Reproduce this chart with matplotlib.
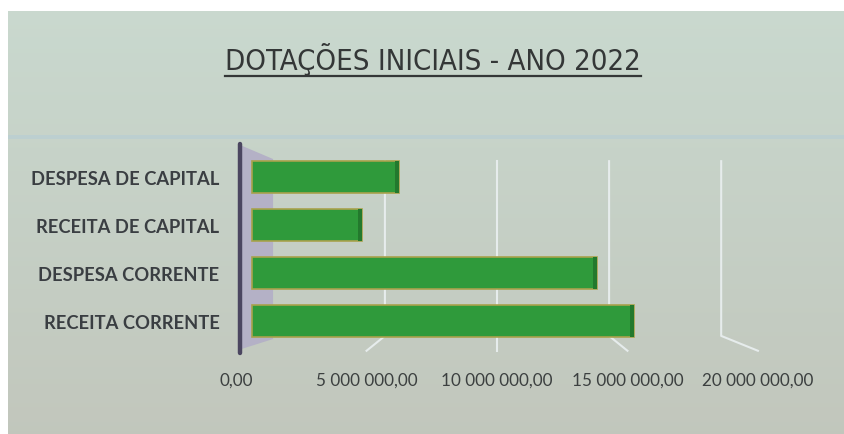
import numpy as np
import matplotlib
matplotlib.use("Agg")
import matplotlib.pyplot as plt
from matplotlib.patches import Rectangle, Polygon
from matplotlib.lines import Line2D

# data
categories = ["RECEITA CORRENTE", "DESPESA CORRENTE", "RECEITA DE CAPITAL", "DESPESA DE CAPITAL"]
values = [15.6e6, 14.1e6, 4.5e6, 6.0e6]
ticks = [0, 5e6, 10e6, 15e6, 20e6]
tick_labels = ["0,00", "5 000 000,00", "10 000 000,00", "15 000 000,00", "20 000 000,00"]
title = "DOTAÇÕES INICIAIS - ANO 2022"

# fake perspective of the excel 3d chart
vp = 10.0e6          # vanishing x
k_back = 0.915       # back wall scale
k_front = 1.065      # front floor / labels scale

def persp(v, k):
    return vp + (np.asarray(v, dtype=float) - vp) * k

W, H = 844, 435
fig = plt.figure(figsize=(W / 100, H / 100), dpi=100, facecolor="white")

# background panel (gradient)
bg = fig.add_axes([8 / W, 0.0, 1 - 8 / W, 1 - 12 / H], zorder=0)
grad = np.linspace(0, 1, 256)[:, None]
top = np.array([0.79, 0.85, 0.81])
bot = np.array([0.76, 0.78, 0.74])
img = top[None, None, :] * (1 - grad[..., None]) + bot[None, None, :] * grad[..., None]
bg.imshow(img, aspect="auto", extent=[0, 1, 0, 1])
bg.add_patch(Rectangle((0, 1 - 128 / 423), 1, 4 / 423, color="#bccfd0", lw=0))
bg.set_xlim(0, 1)
bg.set_ylim(0, 1)
bg.axis("off")

ax = fig.add_axes([225 / W, (H - 362) / H, 575 / W, 222 / H], zorder=1)
ax.patch.set_alpha(0)
ax.set_xlim(-1.102e6, 22.367e6)
ax.set_ylim(-0.833, 3.792)
y = np.arange(len(categories))

# side wall
ax.add_patch(Polygon([(-0.41e6, 3.65), (0.86e6, 3.375), (0.86e6, -0.375), (-0.41e6, -0.58)],
                     closed=True, facecolor="#b4b1c6", edgecolor="none", zorder=1))
ax.plot([-0.49e6, -0.49e6], [3.68, -0.66], color="#4b4660", lw=3.2, solid_capstyle="round", zorder=2)

# back wall gridlines with floor diagonal
for v in ticks[1:]:
    xb = persp(v, k_back)
    xf = persp(v, k_front)
    ax.plot([xb, xb, xf], [3.33, -0.31, -0.62], color="#e6ecec", lw=1.5, zorder=1)

# bars
ax.barh(y, values, height=0.65, left=0, color="#2f9a3b", edgecolor="#a9a24c", lw=1.2, zorder=3)
cap = 0.18e6
ax.barh(y, [cap] * len(values), height=0.65, left=np.array(values) - cap,
        color="#23792d", edgecolor="none", zorder=4)

ax.set_yticks(y, categories)
ax.set_xticks(persp(ticks, k_front), tick_labels)
ax.tick_params(axis="both", length=0)
ax.tick_params(axis="y", pad=4)
ax.tick_params(axis="x", pad=8)
for lab in ax.get_yticklabels():
    lab.set_fontfamily(["Lato", "DejaVu Sans"])
    lab.set_fontweight("bold")
    lab.set_fontsize(13.2)
    lab.set_color("#3a3e42")
for lab in ax.get_xticklabels():
    lab.set_fontfamily(["Lato", "DejaVu Sans"])
    lab.set_fontsize(12.3)
    lab.set_color("#3c4040")
for s in ax.spines.values():
    s.set_visible(False)

# title with underline
t = fig.text(433 / W, 1 - 59 / H, title, ha="center", va="center", fontsize=21,
             family="DejaVu Sans", fontstretch="condensed", color="#343737")
fig.canvas.draw()
bb = t.get_window_extent().transformed(fig.transFigure.inverted())
uy = bb.y0 - 1 / H
fig.add_artist(Line2D([bb.x0, bb.x1], [uy, uy], transform=fig.transFigure, color="#343737", lw=1.6))

fig.savefig("out.png", dpi=100, facecolor=fig.get_facecolor())
